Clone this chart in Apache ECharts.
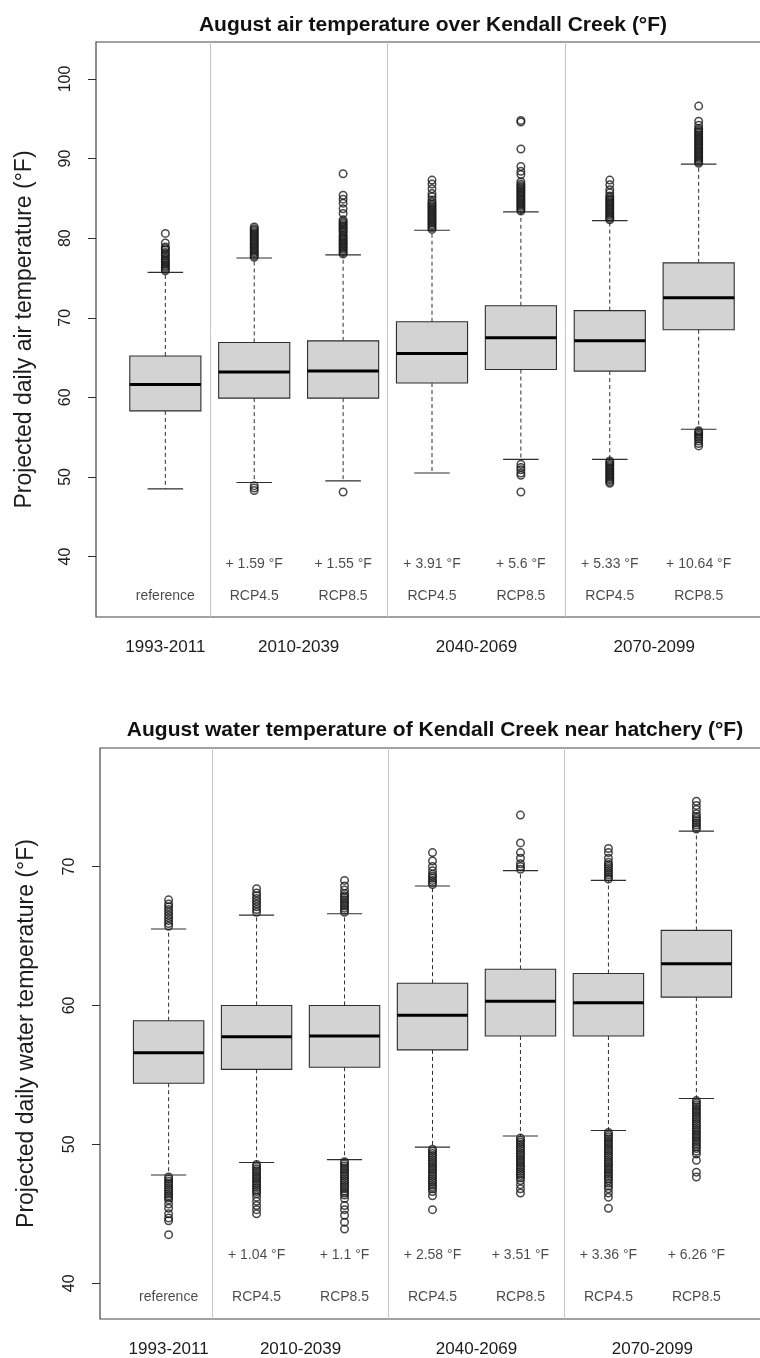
<!DOCTYPE html>
<html>
<head>
<meta charset="utf-8">
<script src="https://cdn.jsdelivr.net/npm/echarts@6/dist/echarts.min.js"></script>
<style>
  html, body { margin: 0; padding: 0; background: #ffffff; }
  #chart { width: 760px; height: 1358px; }
</style>
</head>
<body>
<div id="chart"></div>
<script>
// ---- Data -----------------------------------------------------------------
const positions = [1, 2, 3, 4, 5, 6, 7];
const scenarioLabels = ['reference', 'RCP4.5', 'RCP8.5', 'RCP4.5', 'RCP8.5', 'RCP4.5', 'RCP8.5'];
const periodLabels = ['1993-2011', '2010-2039', '2040-2069', '2070-2099'];
const periodCenters = [1, 2.5, 4.5, 6.5];
const groupBreaks = [1.5, 3.5, 5.5];
const airTicks = [40, 50, 60, 70, 80, 90, 100];
const waterTicks = [40, 50, 60, 70];

const airTitle = 'August air temperature over Kendall Creek (°F)';
const waterTitle = 'August water temperature of Kendall Creek near hatchery (°F)';
const airAxisName = 'Projected daily air temperature (°F)';
const waterAxisName = 'Projected daily water temperature (°F)';

const airChange = ['', '+ 1.59 °F', '+ 1.55 °F', '+ 3.91 °F', '+ 5.6 °F', '+ 5.33 °F', '+ 10.64 °F'];
const waterChange = ['', '+ 1.04 °F', '+ 1.1 °F', '+ 2.58 °F', '+ 3.51 °F', '+ 3.36 °F', '+ 6.26 °F'];

// [lower whisker, Q1, median, Q3, upper whisker]
const airStats = [
  [48.5, 58.3, 61.6, 65.2, 75.7],
  [49.3, 59.9, 63.2, 66.9, 77.5],
  [49.5, 59.9, 63.3, 67.1, 77.9],
  [50.5, 61.8, 65.5, 69.5, 81.0],
  [52.2, 63.5, 67.5, 71.5, 83.3],
  [52.2, 63.3, 67.1, 70.9, 82.2],
  [56.0, 68.5, 72.5, 76.9, 89.3]
];
const airOutHigh = [
  [75.9, 76.1, 76.3, 76.5, 76.7, 76.9, 77.1, 77.3, 77.5, 77.8, 78.0, 78.2, 78.5, 78.7, 78.9, 79.4, 80.6],
  [77.6, 77.8, 78.0, 78.2, 78.4, 78.6, 78.8, 79.0, 79.2, 79.4, 79.6, 79.8, 80.0, 80.2, 80.4, 80.6, 80.8, 81.0, 81.2, 81.4],
  [78.0, 78.2, 78.4, 78.6, 78.8, 79.0, 79.2, 79.4, 79.6, 79.8, 80.0, 80.2, 80.4, 80.7, 80.9, 81.1, 81.3, 81.5, 81.7, 81.9, 82.1, 82.3, 83.1, 83.7, 84.4, 84.9, 85.4, 88.1],
  [81.1, 81.3, 81.5, 81.7, 81.9, 82.1, 82.3, 82.5, 82.7, 82.9, 83.1, 83.3, 83.5, 83.7, 83.9, 84.1, 84.3, 84.5, 84.8, 85.2, 85.6, 86.2, 86.8, 87.3],
  [83.4, 83.6, 83.8, 84.0, 84.2, 84.4, 84.6, 84.8, 85.0, 85.2, 85.4, 85.6, 85.8, 86.0, 86.2, 86.4, 86.6, 86.8, 87.1, 88.0, 88.4, 89.0, 91.2, 94.6, 94.8],
  [82.3, 82.5, 82.7, 82.9, 83.1, 83.3, 83.5, 83.7, 83.9, 84.1, 84.3, 84.5, 84.7, 84.9, 85.1, 85.3, 85.7, 86.1, 86.7, 87.3],
  [89.4, 89.6, 89.8, 90.0, 90.2, 90.4, 90.6, 90.8, 91.0, 91.2, 91.4, 91.6, 91.8, 92.0, 92.2, 92.4, 92.6, 92.8, 93.0, 93.2, 93.4, 93.6, 93.8, 94.2, 94.7, 96.6]
];
const airOutLow = [
  [],
  [48.9, 48.6, 48.3],
  [48.1],
  [],
  [51.6, 51.2, 50.9, 50.5, 50.2, 48.1],
  [52.0, 51.8, 51.6, 51.4, 51.2, 51.0, 50.8, 50.6, 50.4, 50.2, 50.0, 49.8, 49.6, 49.4, 49.2],
  [55.8, 55.6, 55.4, 55.2, 55.0, 54.8, 54.5, 54.2, 53.9]
];

const waterStats = [
  [47.8, 54.4, 56.6, 58.9, 65.5],
  [48.7, 55.4, 57.75, 60.0, 66.5],
  [48.9, 55.55, 57.8, 60.0, 66.6],
  [49.8, 56.8, 59.3, 61.6, 68.6],
  [50.6, 57.8, 60.3, 62.6, 69.7],
  [51.0, 57.8, 60.2, 62.3, 69.0],
  [53.3, 60.6, 63.0, 65.4, 72.55]
];
const waterOutHigh = [
  [65.7, 65.9, 66.1, 66.3, 66.5, 66.7, 66.9, 67.1, 67.3, 67.6],
  [66.7, 66.9, 67.1, 67.3, 67.5, 67.7, 67.9, 68.1, 68.4],
  [66.7, 66.85, 67.0, 67.15, 67.3, 67.45, 67.6, 67.75, 67.9, 68.05, 68.3, 68.6, 69.0],
  [68.7, 68.85, 69.0, 69.15, 69.3, 69.45, 69.7, 70.0, 70.4, 71.0],
  [69.8, 70.0, 70.2, 70.6, 71.0, 71.7, 73.7],
  [69.1, 69.25, 69.4, 69.55, 69.7, 69.85, 70.0, 70.15, 70.3, 70.6, 71.0, 71.3],
  [72.7, 72.85, 73.0, 73.15, 73.3, 73.45, 73.6, 73.8, 74.1, 74.4, 74.7]
];
const waterOutLow = [
  [47.65, 47.5, 47.35, 47.2, 47.05, 46.9, 46.75, 46.6, 46.45, 46.3, 46.15, 46.0, 45.7, 45.4, 45.0, 44.7, 44.5, 43.5],
  [48.55, 48.4, 48.25, 48.1, 47.95, 47.8, 47.65, 47.5, 47.35, 47.2, 47.05, 46.9, 46.75, 46.6, 46.45, 46.2, 45.9, 45.6, 45.3, 45.0],
  [48.75, 48.6, 48.45, 48.3, 48.15, 48.0, 47.85, 47.7, 47.55, 47.4, 47.25, 47.1, 46.95, 46.8, 46.65, 46.5, 46.35, 46.1, 45.6, 45.3, 44.9, 44.4, 43.9],
  [49.65, 49.5, 49.35, 49.2, 49.05, 48.9, 48.75, 48.6, 48.45, 48.3, 48.15, 48.0, 47.85, 47.7, 47.55, 47.4, 47.25, 47.1, 46.95, 46.8, 46.6, 46.3, 45.3],
  [50.45, 50.3, 50.15, 50.0, 49.85, 49.7, 49.55, 49.4, 49.25, 49.1, 48.95, 48.8, 48.65, 48.5, 48.35, 48.2, 48.05, 47.9, 47.75, 47.6, 47.4, 47.1, 46.8, 46.5],
  [50.85, 50.7, 50.55, 50.4, 50.25, 50.1, 49.95, 49.8, 49.65, 49.5, 49.35, 49.2, 49.05, 48.9, 48.75, 48.6, 48.45, 48.3, 48.15, 48.0, 47.85, 47.7, 47.55, 47.4, 47.2, 47.0, 46.8, 46.5, 46.2, 45.4],
  [53.15, 53.0, 52.85, 52.7, 52.55, 52.4, 52.25, 52.1, 51.95, 51.8, 51.65, 51.5, 51.35, 51.2, 51.05, 50.9, 50.75, 50.6, 50.45, 50.3, 50.15, 50.0, 49.85, 49.7, 49.5, 49.3, 48.85, 48.0, 47.65]
];

// ---- Layout & style -------------------------------------------------------
const FONT = "'Liberation Sans', Arial, Helvetica, sans-serif";
const TEXT = '#1c1c1c';
const LINE = '#2e2e2e';
const BOX_WIDTH = 0.8;          // box width in x units (like boxwex)
const X_MIN = 0.22, X_MAX = 7.78;

const panels = [
  {
    title: airTitle, titleTop: 10, titleX: 428,
    grid: { left: 96, top: 42, width: 672, height: 575 },
    yMin: 32.4, yMax: 104.65, ticks: airTicks,
    axisName: airAxisName, nameGap: 60,
    stats: airStats, outHigh: airOutHigh, outLow: airOutLow,
    change: airChange, changeY: 39, scenarioY: 35
  },
  {
    title: waterTitle, titleTop: 715, titleX: 430,
    grid: { left: 100, top: 748, width: 665, height: 571 },
    yMin: 37.43, yMax: 78.53, ticks: waterTicks,
    axisName: waterAxisName, nameGap: 62,
    stats: waterStats, outHigh: waterOutHigh, outLow: waterOutLow,
    change: waterChange, changeY: 42, scenarioY: 39
  }
];

function renderBox(params, api) {
  const x = api.value(0);
  const lo = api.coord([x, api.value(1)]);
  const q1 = api.coord([x, api.value(2)]);
  const md = api.coord([x, api.value(3)]);
  const q3 = api.coord([x, api.value(4)]);
  const hi = api.coord([x, api.value(5)]);
  const bw = api.size([BOX_WIDTH, 0])[0];
  const cx = md[0];
  const dashed = { stroke: LINE, lineWidth: 1, lineDash: [4, 3] };
  const solid = { stroke: LINE, lineWidth: 1.1 };
  return {
    type: 'group',
    children: [
      { type: 'line', shape: { x1: cx, y1: q3[1], x2: cx, y2: hi[1] }, style: dashed },
      { type: 'line', shape: { x1: cx, y1: q1[1], x2: cx, y2: lo[1] }, style: dashed },
      { type: 'line', shape: { x1: cx - bw / 4, y1: hi[1], x2: cx + bw / 4, y2: hi[1] }, style: solid },
      { type: 'line', shape: { x1: cx - bw / 4, y1: lo[1], x2: cx + bw / 4, y2: lo[1] }, style: solid },
      { type: 'rect', shape: { x: cx - bw / 2, y: q3[1], width: bw, height: q1[1] - q3[1] },
        style: { fill: '#d3d3d3', stroke: LINE, lineWidth: 1.1 } },
      { type: 'line', shape: { x1: cx - bw / 2, y1: md[1], x2: cx + bw / 2, y2: md[1] },
        style: { stroke: '#000000', lineWidth: 3 } }
    ]
  };
}

const option = {
  backgroundColor: '#ffffff',
  animation: false,
  title: [],
  grid: [],
  xAxis: [],
  yAxis: [],
  series: []
};

panels.forEach((p, gi) => {
  option.title.push({
    text: p.title, left: p.titleX, top: p.titleTop, textAlign: 'center',
    textStyle: { fontFamily: FONT, fontSize: 21, fontWeight: 'bold', color: '#111111' }
  });
  option.grid.push(Object.assign({
    show: true, borderColor: '#444444', borderWidth: 1.2,
    backgroundColor: 'transparent', containLabel: false, outerBoundsMode: 'none'
  }, p.grid));
  option.xAxis.push({
    type: 'value', gridIndex: gi, min: X_MIN, max: X_MAX,
    axisLine: { show: false }, axisTick: { show: false }, splitLine: { show: false },
    axisLabel: {
      customValues: periodCenters,
      formatter: (v) => periodLabels[periodCenters.indexOf(v)] || '',
      fontFamily: FONT, fontSize: 17, color: TEXT, margin: 22
    }
  });
  option.yAxis.push({
    type: 'value', gridIndex: gi, min: p.yMin, max: p.yMax,
    axisLine: { show: false }, splitLine: { show: false },
    axisTick: { show: true, length: 8, customValues: p.ticks, lineStyle: { color: LINE, width: 1 } },
    axisLabel: { customValues: p.ticks, rotate: 90, margin: 22, fontFamily: FONT, fontSize: 16, color: TEXT },
    name: p.axisName, nameLocation: 'middle', nameRotate: 90, nameGap: p.nameGap,
    nameTextStyle: { fontFamily: FONT, fontSize: 23, color: TEXT }
  });

  // period separators
  option.series.push({
    type: 'line', xAxisIndex: gi, yAxisIndex: gi, data: [], silent: true,
    markLine: {
      silent: true, symbol: 'none', label: { show: false },
      lineStyle: { color: '#c4c4c4', type: 'solid', width: 1 },
      data: groupBreaks.map(b => ({ xAxis: b }))
    }
  });

  // boxes and whiskers
  option.series.push({
    type: 'custom', xAxisIndex: gi, yAxisIndex: gi,
    renderItem: renderBox,
    encode: { x: 0, y: [1, 2, 3, 4, 5] },
    data: p.stats.map((s, i) => [positions[i]].concat(s)),
    z: 2
  });

  // outliers (hollow circles)
  const pts = [];
  positions.forEach((x, i) => {
    p.outHigh[i].forEach(v => pts.push([x, v]));
    p.outLow[i].forEach(v => pts.push([x, v]));
  });
  option.series.push({
    type: 'scatter', xAxisIndex: gi, yAxisIndex: gi, data: pts,
    symbol: 'circle', symbolSize: 7.5, silent: true,
    itemStyle: { color: 'transparent', borderColor: '#1a1a1a', borderWidth: 1.5 },
    z: 3
  });

  // scenario names and change labels
  const textPts = [];
  positions.forEach((x, i) => {
    textPts.push({ value: [x, p.scenarioY], name: scenarioLabels[i] });
    if (p.change[i]) textPts.push({ value: [x, p.changeY], name: p.change[i] });
  });
  option.series.push({
    type: 'scatter', xAxisIndex: gi, yAxisIndex: gi, data: textPts,
    symbolSize: 1, silent: true, itemStyle: { color: 'transparent' },
    label: {
      show: true, position: 'inside', formatter: (d) => d.name,
      fontFamily: FONT, fontSize: 14, color: TEXT
    },
    z: 4
  });
});

const chart = echarts.init(document.getElementById('chart'), null, { renderer: 'canvas' });
chart.setOption(option);
</script>
</body>
</html>
